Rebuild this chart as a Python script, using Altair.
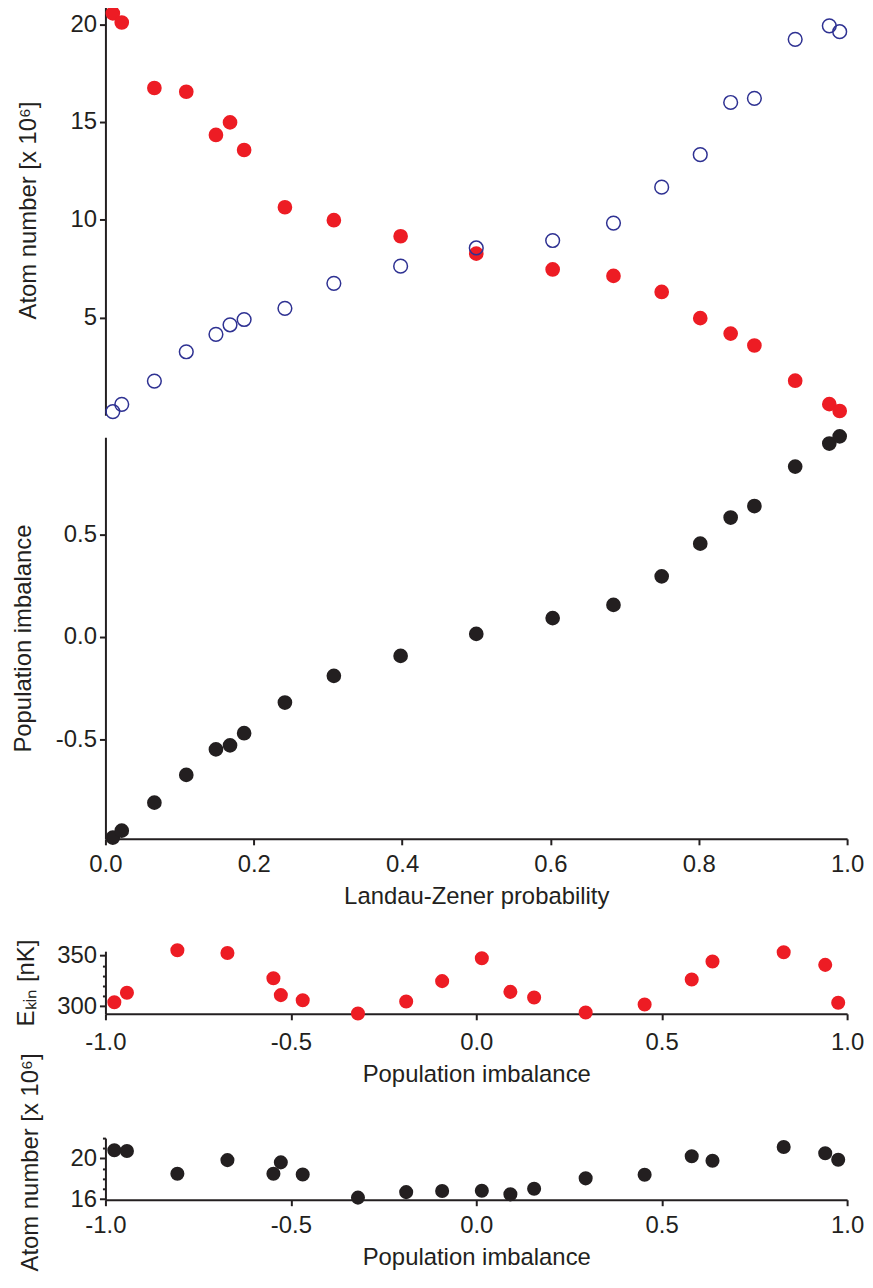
import altair as alt
import pandas as pd

# ---------------- data ----------------
lz_prob = [0.010, 0.022, 0.066, 0.109, 0.149, 0.168, 0.187, 0.242, 0.308, 0.398,
           0.500, 0.603, 0.685, 0.750, 0.802, 0.843, 0.875, 0.930, 0.976, 0.990]
atoms_red = [20.56, 20.09, 16.74, 16.55, 14.34, 14.98, 13.57, 10.64, 9.98, 9.16,
             8.27, 7.46, 7.13, 6.31, 4.97, 4.18, 3.57, 1.77, 0.57, 0.22]
atoms_blue = [0.19, 0.56, 1.75, 3.25, 4.14, 4.63, 4.90, 5.47, 6.75, 7.63,
              8.56, 8.94, 9.83, 11.67, 13.33, 16.00, 16.21, 19.23, 19.92, 19.62]
imbalance = [-0.976, -0.942, -0.806, -0.671, -0.547, -0.527, -0.468, -0.319, -0.189, -0.092,
             0.015, 0.092, 0.156, 0.295, 0.454, 0.581, 0.637, 0.829, 0.941, 0.976]
ekin = [303.9, 313.2, 355.3, 352.6, 327.6, 310.9, 305.9, 292.8, 304.6, 324.7,
        347.4, 314.1, 308.6, 293.8, 301.6, 326.3, 344.1, 353.3, 340.8, 303.3]
atoms_total = [20.80, 20.74, 18.50, 19.84, 18.50, 19.62, 18.43, 16.16, 16.70, 16.80,
               16.83, 16.48, 17.02, 18.05, 18.40, 20.22, 19.78, 21.12, 20.51, 19.87]

lz_ticks = [0.0, 0.2, 0.4, 0.6, 0.8, 1.0]
top_y_ticks = [5, 10, 15, 20]
mid_y_ticks = [-0.5, 0.0, 0.5]
imb_ticks = [-1.0, -0.5, 0.0, 0.5, 1.0]
ekin_ticks = [300, 310, 320, 330, 340, 350]
atom_ticks = [16, 17, 18, 19, 20, 21, 22]

# ---------------- style ----------------
FONT = "Liberation Sans"
INK = "#231F20"
RED = "#ED1C24"
BLUE = "#2E3192"
W = 746
HYPHEN = "replace(format(datum.value, '.1f'), '\u2212', '-')"

df_lz = pd.DataFrame({"lz": lz_prob, "red": atoms_red, "blue": atoms_blue, "imb": imbalance})
df_imb = pd.DataFrame({"imb": imbalance, "ekin": ekin, "atoms": atoms_total})

# ---------------- panel 1: atom numbers vs LZ probability ----------------
x_hidden = alt.X("lz:Q", scale=alt.Scale(domain=[0, 1], nice=False), axis=None)
top_scale = alt.Scale(domain=[0, 21], nice=False, zero=False)
top_axis = alt.Axis(values=top_y_ticks, title="Atom number [x 10\u2076]", titlePadding=30)

red_pts = alt.Chart(df_lz).mark_circle(size=218, color=RED, opacity=1).encode(
    x=x_hidden, y=alt.Y("red:Q", scale=top_scale, axis=top_axis))
blue_pts = alt.Chart(df_lz).mark_point(shape="circle", size=190, filled=False, color=BLUE,
                                       strokeWidth=1.5, opacity=1).encode(
    x=x_hidden, y=alt.Y("blue:Q", scale=top_scale, axis=top_axis))
top = alt.layer(red_pts, blue_pts).properties(width=W, height=413)

# ---------------- panel 2: population imbalance vs LZ probability ----------------
mid = alt.Chart(df_lz).mark_circle(size=218, color=INK, opacity=1).encode(
    x=alt.X("lz:Q", scale=alt.Scale(domain=[0, 1], nice=False),
            axis=alt.Axis(values=lz_ticks, format=".1f", title="Landau-Zener probability")),
    y=alt.Y("imb:Q", scale=alt.Scale(domain=[-0.982, 0.972], nice=False, zero=False),
            axis=alt.Axis(values=mid_y_ticks, labelExpr=HYPHEN, title="Population imbalance",
                          titlePadding=20)),
).properties(width=W, height=404)

# ---------------- panel 3: kinetic energy vs imbalance ----------------
ek = alt.Chart(df_imb).mark_circle(size=200, color=RED, opacity=1).encode(
    x=alt.X("imb:Q", scale=alt.Scale(domain=[-1, 1], nice=False),
            axis=alt.Axis(values=imb_ticks, labelExpr=HYPHEN, title="Population imbalance",
                          labelPadding=11)),
    y=alt.Y("ekin:Q", scale=alt.Scale(domain=[292.4, 354.3], nice=False, zero=False),
            axis=alt.Axis(values=ekin_ticks,
                          labelExpr="datum.value % 50 === 0 ? datum.label : ''",
                          tickSize={"condition": {"test": "datum.value % 50 === 0", "value": 6},
                                    "value": 3},
                          title="E\u2096\u1d62\u2099 [nK]", titlePadding=18)),
).properties(width=W, height=63)

# ---------------- panel 4: total atom number vs imbalance ----------------
an = alt.Chart(df_imb).mark_circle(size=200, color=INK, opacity=1).encode(
    x=alt.X("imb:Q", scale=alt.Scale(domain=[-1, 1], nice=False),
            axis=alt.Axis(values=imb_ticks, labelExpr=HYPHEN, title="Population imbalance")),
    y=alt.Y("atoms:Q", scale=alt.Scale(domain=[15.95, 22.0], nice=False, zero=False),
            axis=alt.Axis(values=atom_ticks,
                          labelExpr="(datum.value === 16 || datum.value === 20) ? datum.label : ''",
                          tickSize={"condition": {"test": "datum.value === 16 || datum.value === 20",
                                                  "value": 6}, "value": 3},
                          title="Atom number [x 10\u2076]", titlePadding=28, titleY=24)),
).properties(width=W, height=62)


def spacer(h):
    sp = pd.DataFrame({"v": [0]})
    return alt.Chart(sp).mark_point(opacity=0).encode(
        x=alt.X("v:Q", axis=None), y=alt.Y("v:Q", axis=None)
    ).properties(width=W, height=h)


chart = alt.vconcat(top, mid, spacer(69), ek, spacer(81), an, spacing=22, bounds="flush").properties(
    padding={"left": 3, "top": -7, "right": 1, "bottom": 0}
).configure_view(stroke=None).configure_axis(
    domainColor=INK, domainWidth=2, tickColor=INK, tickWidth=2, tickSize=6,
    labelFont=FONT, labelFontSize=24, labelColor=INK, labelPadding=3,
    titleFont=FONT, titleFontSize=24, titleFontWeight="normal", titleColor=INK,
    grid=False, labelFlush=False, labelOverlap=False,
).configure_axisX(labelPadding=8, titlePadding=8)

chart.save("out.html", embed_options={"renderer": "svg", "actions": False})
